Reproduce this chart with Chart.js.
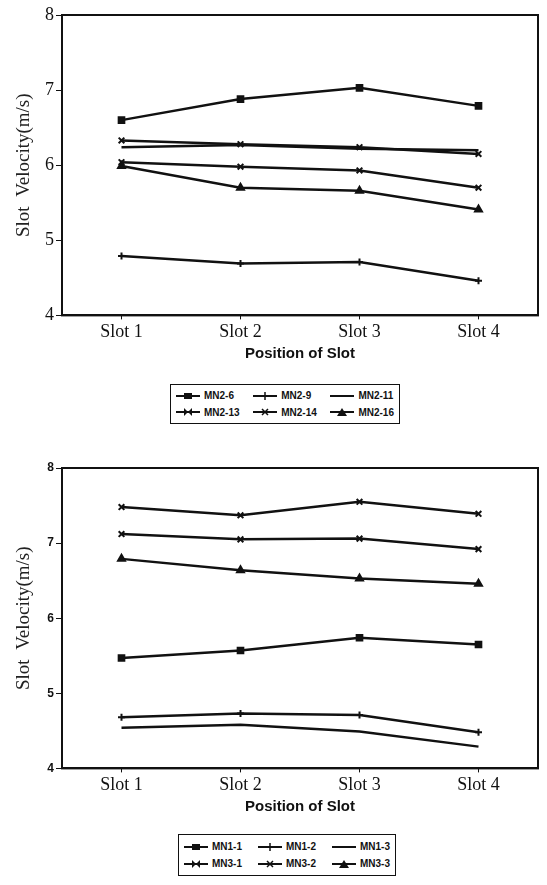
<!DOCTYPE html>
<html>
<head>
<meta charset="utf-8">
<script src="https://cdn.jsdelivr.net/npm/chart.js@4/dist/chart.umd.min.js"></script>
<style>
  html, body { margin: 0; padding: 0; background: #fff; }
  #page { position: relative; width: 547px; height: 885px; overflow: hidden; }
  .wrap { position: absolute; left: 0; width: 547px; }
  #top { top: 0; height: 368px; }
  #bottom { top: 440px; height: 381px; }
  .legend {
    position: absolute; box-sizing: border-box;
    border: 1.5px solid #111;
    display: grid; grid-template-columns: auto auto auto;
    align-content: space-evenly; justify-content: space-between;
    padding: 0 5px;
    font: bold 10px Arial, "Liberation Sans", sans-serif; color: #111;
  }
  .legend .item { display: flex; align-items: center; white-space: nowrap; }
  .legend svg { margin-right: 4px; }
  #legTop { left: 170px; top: 384px; width: 230px; height: 40px; }
  #legBottom { left: 178px; top: 834px; width: 218px; height: 42px; }
</style>
</head>
<body>
<div id="page">
  <div class="wrap" id="top"><canvas id="chartTop"></canvas></div>
  <div class="legend" id="legTop"></div>
  <div class="wrap" id="bottom"><canvas id="chartBottom"></canvas></div>
  <div class="legend" id="legBottom"></div>
</div>
<script>
// Categories
const slots = ['Slot 1', 'Slot 2', 'Slot 3', 'Slot 4'];

// Upper chart series (m/s)
const mn2_6  = [6.60, 6.88, 7.03, 6.79];
const mn2_9  = [4.79, 4.69, 4.71, 4.46];
const mn2_11 = [6.24, 6.27, 6.22, 6.20];
const mn2_13 = [6.33, 6.28, 6.24, 6.15];
const mn2_14 = [6.04, 5.98, 5.93, 5.70];
const mn2_16 = [5.99, 5.70, 5.66, 5.41];

// Lower chart series (m/s)
const mn1_1 = [5.47, 5.57, 5.74, 5.65];
const mn1_2 = [4.68, 4.73, 4.71, 4.48];
const mn1_3 = [4.54, 4.58, 4.49, 4.29];
const mn3_1 = [7.48, 7.37, 7.55, 7.39];
const mn3_2 = [7.12, 7.05, 7.06, 6.92];
const mn3_3 = [6.79, 6.64, 6.53, 6.46];

const ink = '#111';
const serif = '"Liberation Serif", "Times New Roman", serif';
const sans = 'Arial, "Liberation Sans", sans-serif';

// svg icon for the legend: line with its marker in the middle
function legendIcon(style) {
    let mark = '';
    if (style === 'rect') mark = '<rect x="8" y="1" width="8" height="6" fill="#111"/>';
    else if (style === 'cross') mark = '<line x1="12" y1="0" x2="12" y2="8" stroke="#111" stroke-width="1.5"/>';
    else if (style === 'crossRot') mark = '<path d="M9 1L15 7M15 1L9 7" stroke="#111" stroke-width="1.5"/>';
    else if (style === 'bow') mark = '<path d="M8 0L8 8L16 0L16 8Z" fill="#111"/>';
    else if (style === 'triangle') mark = '<path d="M12 0L17 8L7 8Z" fill="#111"/>';
    return '<svg width="24" height="8" viewBox="0 0 24 8"><line x1="0" y1="4" x2="24" y2="4" stroke="#111" stroke-width="2"/>' + mark + '</svg>';
}

function buildLegend(el, chart) {
    el.innerHTML = chart.data.datasets.map(d =>
        '<div class="item">' + legendIcon(d.legendStyle) + '<span>' + d.label + '</span></div>'
    ).join('');
}

function series(label, data, style) {
    return {
        label: label,
        data: data,
        borderColor: ink,
        backgroundColor: ink,
        borderWidth: 2.5,
        tension: 0,
        fill: false,
        pointStyle: style === 'none' ? false : (style === 'bow' ? 'crossRot' : style),
        pointRadius: style === 'cross' ? 3.5 : 4,
        pointBorderWidth: 2,
        legendStyle: style
    };
}

// frame round the plot area
const framePlugin = {
    id: 'frame',
    afterDraw(chart) {
        const ctx = chart.ctx, a = chart.chartArea;
        ctx.save();
        ctx.strokeStyle = ink;
        ctx.lineWidth = 2;
        ctx.strokeRect(a.left, a.top, a.right - a.left, a.bottom - a.top);
        ctx.restore();
    }
};

function makeChart(id, datasets, tickFont, padTop) {
    return new Chart(document.getElementById(id), {
        type: 'line',
        data: { labels: slots, datasets: datasets },
        options: {
            responsive: true,
            maintainAspectRatio: false,
            animation: false,
            layout: { padding: { top: padTop, right: 9, left: 0, bottom: 5 } },
            plugins: {
                tooltip: { enabled: false },
                legend: { display: false }
            },
            scales: {
                x: {
                    offset: true,
                    border: { display: true, color: ink, width: 2 },
                    grid: { drawOnChartArea: false, drawTicks: true, tickLength: 4, color: ink, offset: false },
                    ticks: { color: ink, font: { family: serif, size: 18 }, padding: 2 },
                    title: {
                        display: true,
                        text: 'Position of Slot',
                        color: ink,
                        font: { family: sans, size: 15, weight: 'bold' },
                        padding: { top: 0, bottom: 0 }
                    }
                },
                y: {
                    min: 4,
                    max: 8,
                    afterFit(scale) { scale.width = 62; },
                    border: { display: true, color: ink, width: 2 },
                    grid: { drawOnChartArea: false, drawTicks: true, tickLength: 6, color: ink },
                    ticks: { stepSize: 1, color: ink, font: tickFont, padding: 2 },
                    title: {
                        display: true,
                        text: 'Slot  Velocity(m/s)',
                        color: '#222',
                        font: { family: serif, size: 19 },
                        padding: { top: 13, bottom: 0 }
                    }
                }
            }
        },
        plugins: [framePlugin]
    });
}

const topChart = makeChart('chartTop', [
    series('MN2-6', mn2_6, 'rect'),
    series('MN2-9', mn2_9, 'cross'),
    series('MN2-11', mn2_11, 'none'),
    series('MN2-13', mn2_13, 'bow'),
    series('MN2-14', mn2_14, 'crossRot'),
    series('MN2-16', mn2_16, 'triangle')
], { family: serif, size: 18 }, 15);

const bottomChart = makeChart('chartBottom', [
    series('MN1-1', mn1_1, 'rect'),
    series('MN1-2', mn1_2, 'cross'),
    series('MN1-3', mn1_3, 'none'),
    series('MN3-1', mn3_1, 'bow'),
    series('MN3-2', mn3_2, 'crossRot'),
    series('MN3-3', mn3_3, 'triangle')
], { family: sans, size: 12, weight: 'bold' }, 28);

buildLegend(document.getElementById('legTop'), topChart);
buildLegend(document.getElementById('legBottom'), bottomChart);
</script>
</body>
</html>
